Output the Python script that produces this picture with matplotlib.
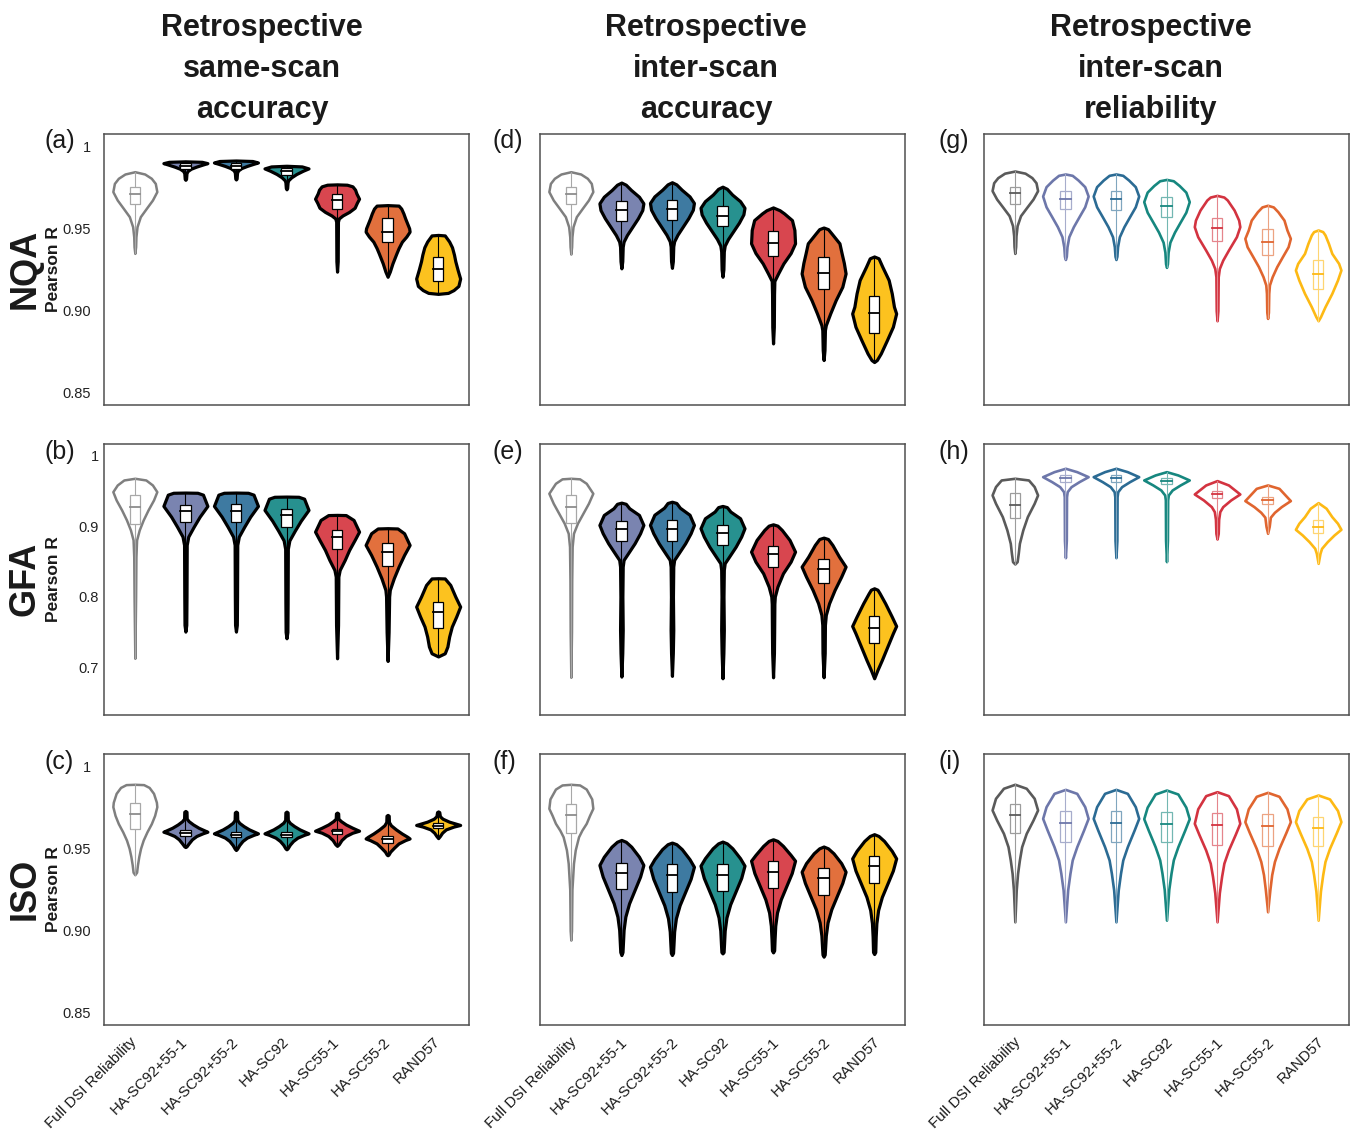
import numpy as np
import matplotlib.pyplot as plt
import matplotlib.transforms as mtransforms
from matplotlib.patches import Rectangle

plt.rcParams['font.family'] = ['Liberation Sans', 'DejaVu Sans']

categories = ["Full DSI Reliability", "HA-SC92+55-1", "HA-SC92+55-2", "HA-SC92",
              "HA-SC55-1", "HA-SC55-2", "RAND57"]
colores = ["#808080", "#7a84b0", "#3e7aa1", "#27918f", "#d8464f", "#e2703d", "#fcc21f"]
colores_rel = ["#5a5a5a", "#6d77aa", "#2b6b94", "#16877f", "#d33340", "#e0652f", "#fdb914"]

col_titles = ["Retrospective\nsame-scan\naccuracy",
              "Retrospective\ninter-scan\naccuracy",
              "Retrospective\ninter-scan\nreliability"]
row_names = ["NQA", "GFA", "ISO"]
letters = [["(a)", "(d)", "(g)"], ["(b)", "(e)", "(h)"], ["(c)", "(f)", "(i)"]]

# Perfil de cada violin: pares [valor R, ancho relativo], de arriba a abajo
# (a) NQA same-scan
nqa_same_prof = [
    [[0.9844, 0], [0.9830, 0.45], [0.9804, 0.75], [0.9773, 0.93], [0.9723, 1.0], [0.9672, 0.8], [0.9621, 0.52],
     [0.9571, 0.25], [0.9510, 0.1], [0.9449, 0.05], [0.9388, 0.035], [0.9348, 0]],
    [[0.9907, 0], [0.9904, 0.75], [0.9896, 1.0], [0.9888, 0.8], [0.9875, 0.5], [0.9862, 0.25], [0.9848, 0.1],
     [0.9835, 0.05], [0.9800, 0.03], [0.9795, 0]],
    [[0.9912, 0], [0.9909, 0.75], [0.9900, 1.0], [0.9892, 0.8], [0.9879, 0.5], [0.9866, 0.25], [0.9852, 0.1],
     [0.9838, 0.05], [0.9802, 0.03], [0.9797, 0]],
    [[0.9880, 0], [0.9876, 0.7], [0.9864, 1.0], [0.9850, 0.75], [0.9830, 0.45], [0.9810, 0.22], [0.9792, 0.08],
     [0.9780, 0.05], [0.9745, 0.03], [0.9737, 0]],
    [[0.9767, 0], [0.9765, 0.45], [0.9755, 0.7], [0.9735, 0.82], [0.9712, 0.88], [0.9680, 1.0], [0.9655, 0.9],
     [0.9625, 0.8], [0.9600, 0.55], [0.9578, 0.25], [0.9560, 0.08], [0.9540, 0.04], [0.9300, 0.03], [0.9237, 0]],
    [[0.9641, 0], [0.9638, 0.5], [0.9620, 0.62], [0.9590, 0.72], [0.9560, 0.8], [0.9500, 0.98], [0.9480, 1.0],
     [0.9450, 0.85], [0.9419, 0.65], [0.9380, 0.5], [0.9348, 0.4], [0.9287, 0.22], [0.9237, 0.1], [0.9206, 0]],
    [[0.9460, 0], [0.9457, 0.3], [0.9420, 0.5], [0.9385, 0.63], [0.9340, 0.72], [0.9300, 0.78], [0.9250, 0.88],
     [0.9195, 1.0], [0.9150, 0.92], [0.9125, 0.7], [0.9108, 0.45], [0.9102, 0]],
]
nqa_same_q1 = [0.9648, 0.9859, 0.9863, 0.9824, 0.9617, 0.9419, 0.9180]
nqa_same_med = [0.9708, 0.9877, 0.9880, 0.9846, 0.9672, 0.9480, 0.9251]
nqa_same_q3 = [0.9749, 0.9895, 0.9898, 0.9868, 0.9708, 0.9561, 0.9328]

# (b) GFA same-scan
gfa_same_prof = [
    [[0.9683, 0], [0.9659, 0.5], [0.9588, 0.8], [0.9493, 1.0], [0.9375, 0.85], [0.9233, 0.6], [0.9091, 0.38],
     [0.8949, 0.2], [0.8807, 0.08], [0.8570, 0.05], [0.8002, 0.035], [0.7126, 0]],
    [[0.9480, 0], [0.9477, 0.55], [0.9450, 0.8], [0.9290, 1.0], [0.9138, 0.65], [0.8996, 0.38], [0.8854, 0.13],
     [0.8736, 0.06], [0.8000, 0.05], [0.7600, 0.04], [0.7505, 0]],
    [[0.9480, 0], [0.9477, 0.55], [0.9450, 0.8], [0.9290, 1.0], [0.9138, 0.65], [0.8996, 0.38], [0.8854, 0.13],
     [0.8736, 0.06], [0.8000, 0.05], [0.7600, 0.04], [0.7505, 0]],
    [[0.9423, 0], [0.9420, 0.55], [0.9393, 0.8], [0.9233, 1.0], [0.9080, 0.65], [0.8940, 0.38], [0.8800, 0.13],
     [0.8680, 0.06], [0.7900, 0.05], [0.7500, 0.04], [0.7410, 0]],
    [[0.9163, 0], [0.9160, 0.4], [0.9091, 0.75], [0.8925, 1.0], [0.8807, 0.8], [0.8665, 0.55], [0.8523, 0.35],
     [0.8381, 0.12], [0.8286, 0.06], [0.7600, 0.045], [0.7126, 0]],
    [[0.8974, 0], [0.8970, 0.45], [0.8902, 0.75], [0.8736, 1.0], [0.8594, 0.75], [0.8428, 0.5], [0.8262, 0.28],
     [0.8097, 0.1], [0.8002, 0.07], [0.7500, 0.045], [0.7088, 0]],
    [[0.8263, 0], [0.8260, 0.3], [0.8168, 0.55], [0.8002, 0.78], [0.7860, 1.0], [0.7718, 0.82], [0.7576, 0.62],
     [0.7434, 0.5], [0.7292, 0.42], [0.7197, 0.3], [0.7152, 0]],
]
gfa_same_q1 = [0.9034, 0.9058, 0.9063, 0.8996, 0.8684, 0.8442, 0.7552]
gfa_same_med = [0.9271, 0.9223, 0.9223, 0.9162, 0.8854, 0.8641, 0.7789]
gfa_same_q3 = [0.9446, 0.9304, 0.9318, 0.9252, 0.8949, 0.8759, 0.7931]

# (c) ISO same-scan
iso_same_prof = [
    [[0.9889, 0], [0.9887, 0.4], [0.9870, 0.65], [0.9834, 0.85], [0.9780, 0.98], [0.9753, 1.0], [0.9700, 0.9],
     [0.9650, 0.75], [0.9600, 0.55], [0.9550, 0.38], [0.9500, 0.26], [0.9450, 0.18], [0.9400, 0.12],
     [0.9355, 0.08], [0.9340, 0]],
    [[0.9727, 0], [0.9722, 0.05], [0.9680, 0.06], [0.9665, 0.15], [0.9645, 0.35], [0.9625, 0.6], [0.9610, 0.85],
     [0.9601, 1.0], [0.9592, 0.8], [0.9575, 0.5], [0.9555, 0.3], [0.9530, 0.15], [0.9512, 0.05], [0.9508, 0]],
    [[0.9723, 0], [0.9718, 0.05], [0.9672, 0.06], [0.9655, 0.15], [0.9635, 0.35], [0.9615, 0.6], [0.9600, 0.85],
     [0.9591, 1.0], [0.9582, 0.8], [0.9565, 0.5], [0.9545, 0.3], [0.9520, 0.15], [0.9497, 0.05], [0.9490, 0]],
    [[0.9723, 0], [0.9718, 0.05], [0.9672, 0.06], [0.9655, 0.15], [0.9635, 0.35], [0.9615, 0.6], [0.9600, 0.85],
     [0.9591, 1.0], [0.9582, 0.8], [0.9565, 0.5], [0.9545, 0.3], [0.9522, 0.15], [0.9500, 0.05], [0.9494, 0]],
    [[0.9717, 0], [0.9712, 0.05], [0.9680, 0.06], [0.9665, 0.18], [0.9645, 0.4], [0.9625, 0.7], [0.9607, 1.0],
     [0.9595, 0.7], [0.9575, 0.4], [0.9550, 0.2], [0.9525, 0.08], [0.9515, 0]],
    [[0.9703, 0], [0.9698, 0.05], [0.9660, 0.06], [0.9640, 0.15], [0.9615, 0.38], [0.9590, 0.65], [0.9570, 0.9],
     [0.9560, 1.0], [0.9550, 0.8], [0.9530, 0.5], [0.9505, 0.3], [0.9480, 0.12], [0.9462, 0.04], [0.9458, 0]],
    [[0.9724, 0], [0.9720, 0.05], [0.9695, 0.08], [0.9680, 0.2], [0.9662, 0.5], [0.9648, 0.85], [0.9642, 1.0],
     [0.9632, 0.7], [0.9615, 0.35], [0.9595, 0.18], [0.9575, 0.08], [0.9562, 0]],
]
iso_same_q1 = [0.9615, 0.9577, 0.9567, 0.9567, 0.9587, 0.9534, 0.9623]
iso_same_med = [0.9708, 0.9595, 0.9583, 0.9583, 0.9603, 0.9555, 0.9638]
iso_same_q3 = [0.9777, 0.9611, 0.9599, 0.9599, 0.9619, 0.9575, 0.9652]

# (d) NQA inter-scan
nqa_inter_prof = [
    [[0.9844, 0], [0.9830, 0.45], [0.9804, 0.75], [0.9773, 0.93], [0.9723, 1.0], [0.9672, 0.8], [0.9621, 0.52],
     [0.9571, 0.25], [0.9510, 0.1], [0.9449, 0.05], [0.9388, 0.035], [0.9344, 0]],
    [[0.9778, 0], [0.9765, 0.2], [0.9733, 0.44], [0.9692, 0.8], [0.9652, 1.0], [0.9611, 0.95], [0.9561, 0.75],
     [0.9510, 0.5], [0.9459, 0.25], [0.9419, 0.1], [0.9388, 0.06], [0.9300, 0.04], [0.9257, 0]],
    [[0.9780, 0], [0.9767, 0.2], [0.9735, 0.44], [0.9694, 0.8], [0.9654, 1.0], [0.9613, 0.95], [0.9563, 0.75],
     [0.9512, 0.5], [0.9461, 0.25], [0.9421, 0.1], [0.9390, 0.06], [0.9300, 0.04], [0.9260, 0]],
    [[0.9753, 0], [0.9740, 0.2], [0.9705, 0.44], [0.9665, 0.8], [0.9625, 1.0], [0.9585, 0.95], [0.9535, 0.75],
     [0.9485, 0.5], [0.9435, 0.25], [0.9395, 0.1], [0.9360, 0.06], [0.9250, 0.04], [0.9206, 0]],
    [[0.9627, 0], [0.9610, 0.3], [0.9591, 0.5], [0.9550, 0.86], [0.9490, 0.97], [0.9409, 1.0], [0.9350, 0.8],
     [0.9287, 0.47], [0.9226, 0.23], [0.9180, 0.06], [0.9100, 0.045], [0.8900, 0.035], [0.8801, 0]],
    [[0.9505, 0], [0.9495, 0.2], [0.9469, 0.36], [0.9409, 0.72], [0.9348, 0.82], [0.9290, 0.92], [0.9226, 1.0],
     [0.9145, 0.85], [0.9064, 0.55], [0.8983, 0.3], [0.8912, 0.1], [0.8882, 0.06], [0.8760, 0.04], [0.8700, 0]],
    [[0.9329, 0], [0.9318, 0.2], [0.9267, 0.37], [0.9186, 0.66], [0.9105, 0.8], [0.9024, 0.9], [0.8983, 1.0],
     [0.8902, 0.85], [0.8821, 0.58], [0.8740, 0.3], [0.8700, 0.12], [0.8688, 0]],
]
nqa_inter_q1 = [0.9648, 0.9547, 0.9550, 0.9514, 0.9332, 0.9129, 0.8866]
nqa_inter_med = [0.9708, 0.9613, 0.9618, 0.9577, 0.9409, 0.9226, 0.8983]
nqa_inter_q3 = [0.9749, 0.9664, 0.9670, 0.9635, 0.9484, 0.9328, 0.9091]

# (e) GFA inter-scan
gfa_inter_prof = [
    [[0.9683, 0], [0.9675, 0.4], [0.9612, 0.7], [0.9470, 1.0], [0.9328, 0.8], [0.9186, 0.55], [0.9044, 0.3],
     [0.8902, 0.12], [0.8712, 0.06], [0.8229, 0.04], [0.7500, 0.03], [0.6856, 0]],
    [[0.9337, 0], [0.9320, 0.2], [0.9257, 0.36], [0.9162, 0.8], [0.9020, 1.0], [0.8902, 0.85], [0.8759, 0.6],
     [0.8617, 0.3], [0.8523, 0.1], [0.8428, 0.06], [0.8000, 0.045], [0.7528, 0.06], [0.7200, 0.04], [0.6866, 0]],
    [[0.9350, 0], [0.9332, 0.2], [0.9265, 0.36], [0.9165, 0.8], [0.9020, 1.0], [0.8902, 0.85], [0.8759, 0.6],
     [0.8617, 0.3], [0.8523, 0.1], [0.8428, 0.06], [0.8000, 0.045], [0.7528, 0.06], [0.7200, 0.04], [0.6876, 0]],
    [[0.9290, 0], [0.9273, 0.2], [0.9210, 0.36], [0.9115, 0.8], [0.8973, 1.0], [0.8855, 0.85], [0.8712, 0.6],
     [0.8570, 0.3], [0.8476, 0.1], [0.8381, 0.06], [0.8000, 0.045], [0.7528, 0.06], [0.7200, 0.04], [0.6842, 0]],
    [[0.9029, 0], [0.9010, 0.2], [0.8949, 0.4], [0.8807, 0.75], [0.8641, 1.0], [0.8499, 0.8], [0.8333, 0.45],
     [0.8144, 0.2], [0.8002, 0.08], [0.7900, 0.06], [0.7500, 0.05], [0.7200, 0.04], [0.6856, 0]],
    [[0.8840, 0], [0.8820, 0.2], [0.8736, 0.4], [0.8570, 0.7], [0.8428, 1.0], [0.8286, 0.8], [0.8097, 0.5],
     [0.7908, 0.25], [0.7741, 0.1], [0.7600, 0.06], [0.7200, 0.05], [0.6856, 0]],
    [[0.8120, 0], [0.8100, 0.15], [0.8049, 0.25], [0.7907, 0.5], [0.7718, 0.8], [0.7585, 1.0], [0.7481, 0.85],
     [0.7292, 0.6], [0.7102, 0.35], [0.6960, 0.15], [0.6842, 0]],
]
gfa_inter_q1 = [0.9044, 0.8793, 0.8797, 0.8736, 0.8428, 0.8201, 0.7339]
gfa_inter_med = [0.9280, 0.8958, 0.8958, 0.8902, 0.8603, 0.8390, 0.7552]
gfa_inter_q3 = [0.9446, 0.9081, 0.9091, 0.9020, 0.8722, 0.8532, 0.7732]

# (f) ISO inter-scan
iso_inter_prof = [
    [[0.9889, 0], [0.9885, 0.4], [0.9860, 0.7], [0.9800, 0.95], [0.9743, 1.0], [0.9700, 0.85], [0.9652, 0.7],
     [0.9610, 0.5], [0.9570, 0.35], [0.9490, 0.2], [0.9409, 0.12], [0.9250, 0.05], [0.9000, 0.03], [0.8943, 0]],
    [[0.9551, 0], [0.9540, 0.2], [0.9510, 0.45], [0.9449, 0.8], [0.9399, 1.0], [0.9328, 0.85], [0.9247, 0.6],
     [0.9166, 0.35], [0.9085, 0.18], [0.9004, 0.1], [0.8923, 0.07], [0.8870, 0.05], [0.8852, 0]],
    [[0.9535, 0], [0.9525, 0.2], [0.9495, 0.45], [0.9434, 0.8], [0.9388, 1.0], [0.9315, 0.85], [0.9235, 0.6],
     [0.9155, 0.35], [0.9075, 0.18], [0.8995, 0.1], [0.8915, 0.07], [0.8865, 0.05], [0.8852, 0]],
    [[0.9541, 0], [0.9530, 0.2], [0.9500, 0.45], [0.9440, 0.8], [0.9395, 1.0], [0.9320, 0.85], [0.9240, 0.6],
     [0.9160, 0.35], [0.9080, 0.18], [0.9000, 0.1], [0.8920, 0.07], [0.8870, 0.05], [0.8862, 0]],
    [[0.9555, 0], [0.9545, 0.2], [0.9515, 0.45], [0.9460, 0.8], [0.9425, 1.0], [0.9350, 0.85], [0.9270, 0.6],
     [0.9190, 0.35], [0.9110, 0.18], [0.9030, 0.1], [0.8950, 0.07], [0.8880, 0.05], [0.8868, 0]],
    [[0.9511, 0], [0.9500, 0.2], [0.9470, 0.45], [0.9410, 0.8], [0.9358, 1.0], [0.9290, 0.85], [0.9210, 0.6],
     [0.9130, 0.35], [0.9050, 0.18], [0.8970, 0.1], [0.8900, 0.07], [0.8855, 0.05], [0.8842, 0]],
    [[0.9586, 0], [0.9575, 0.2], [0.9545, 0.45], [0.9485, 0.8], [0.9439, 1.0], [0.9365, 0.85], [0.9285, 0.6],
     [0.9205, 0.35], [0.9125, 0.18], [0.9045, 0.1], [0.8965, 0.07], [0.8870, 0.05], [0.8858, 0]],
]
iso_inter_q1 = [0.9591, 0.9251, 0.9237, 0.9243, 0.9257, 0.9216, 0.9287]
iso_inter_med = [0.9700, 0.9352, 0.9338, 0.9338, 0.9354, 0.9318, 0.9392]
iso_inter_q3 = [0.9769, 0.9413, 0.9403, 0.9405, 0.9423, 0.9378, 0.9455]

# (g) NQA reliability
nqa_rel_prof = [
    [[0.9848, 0], [0.9835, 0.45], [0.9808, 0.75], [0.9777, 0.93], [0.9729, 1.0], [0.9678, 0.8], [0.9627, 0.52],
     [0.9577, 0.25], [0.9516, 0.1], [0.9455, 0.05], [0.9390, 0.035], [0.9348, 0]],
    [[0.9830, 0], [0.9822, 0.3], [0.9793, 0.56], [0.9753, 0.85], [0.9696, 1.0], [0.9631, 0.85], [0.9571, 0.6],
     [0.9510, 0.35], [0.9449, 0.15], [0.9388, 0.07], [0.9330, 0.04], [0.9311, 0]],
    [[0.9830, 0], [0.9822, 0.3], [0.9793, 0.56], [0.9753, 0.85], [0.9696, 1.0], [0.9631, 0.85], [0.9571, 0.6],
     [0.9510, 0.35], [0.9449, 0.15], [0.9388, 0.07], [0.9330, 0.04], [0.9311, 0]],
    [[0.9797, 0], [0.9789, 0.3], [0.9760, 0.56], [0.9720, 0.85], [0.9662, 1.0], [0.9598, 0.85], [0.9538, 0.6],
     [0.9477, 0.35], [0.9416, 0.15], [0.9355, 0.07], [0.9285, 0.04], [0.9263, 0]],
    [[0.9700, 0], [0.9690, 0.3], [0.9672, 0.45], [0.9611, 0.75], [0.9550, 0.95], [0.9510, 1.0], [0.9449, 0.85],
     [0.9368, 0.5], [0.9307, 0.25], [0.9256, 0.1], [0.9206, 0.05], [0.9000, 0.035], [0.8939, 0]],
    [[0.9640, 0], [0.9630, 0.25], [0.9601, 0.45], [0.9550, 0.72], [0.9490, 0.85], [0.9439, 1.0], [0.9388, 0.9],
     [0.9328, 0.65], [0.9267, 0.4], [0.9206, 0.2], [0.9156, 0.08], [0.9105, 0.05], [0.8990, 0.035], [0.8953, 0]],
    [[0.9490, 0], [0.9480, 0.2], [0.9460, 0.3], [0.9409, 0.45], [0.9348, 0.6], [0.9287, 0.9], [0.9247, 1.0],
     [0.9186, 0.85], [0.9105, 0.6], [0.9024, 0.3], [0.8963, 0.1], [0.8939, 0]],
]
nqa_rel_q1 = [0.9648, 0.9615, 0.9611, 0.9571, 0.9425, 0.9336, 0.9129]
nqa_rel_med = [0.9712, 0.9676, 0.9676, 0.9635, 0.9500, 0.9419, 0.9222]
nqa_rel_q3 = [0.9753, 0.9727, 0.9725, 0.9688, 0.9565, 0.9494, 0.9307]

# (h) GFA reliability
gfa_rel_prof = [
    [[0.9683, 0], [0.9659, 0.6], [0.9565, 0.85], [0.9446, 1.0], [0.9328, 0.85], [0.9138, 0.55], [0.8949, 0.35],
     [0.8759, 0.2], [0.8617, 0.15], [0.8499, 0.1], [0.8466, 0]],
    [[0.9825, 0], [0.9777, 0.5], [0.9706, 1.0], [0.9635, 0.6], [0.9564, 0.25], [0.9493, 0.08], [0.9422, 0.05],
     [0.8800, 0.04], [0.8556, 0]],
    [[0.9825, 0], [0.9777, 0.5], [0.9706, 1.0], [0.9635, 0.6], [0.9564, 0.25], [0.9493, 0.08], [0.9422, 0.05],
     [0.8800, 0.04], [0.8556, 0]],
    [[0.9777, 0], [0.9730, 0.5], [0.9659, 1.0], [0.9588, 0.6], [0.9517, 0.25], [0.9446, 0.08], [0.9375, 0.05],
     [0.8800, 0.04], [0.8499, 0]],
    [[0.9650, 0], [0.9588, 0.5], [0.9460, 1.0], [0.9375, 0.6], [0.9280, 0.25], [0.9209, 0.12], [0.9100, 0.07],
     [0.8900, 0.05], [0.8821, 0]],
    [[0.9588, 0], [0.9540, 0.5], [0.9366, 1.0], [0.9280, 0.6], [0.9200, 0.3], [0.9130, 0.12], [0.9000, 0.07],
     [0.8902, 0]],
    [[0.9337, 0], [0.9257, 0.35], [0.9138, 0.6], [0.9044, 0.85], [0.8958, 1.0], [0.8878, 0.7], [0.8783, 0.4],
     [0.8688, 0.15], [0.8617, 0.08], [0.8475, 0]],
]
gfa_rel_q1 = [0.9124, 0.9635, 0.9635, 0.9598, 0.9399, 0.9318, 0.8911]
gfa_rel_med = [0.9304, 0.9683, 0.9683, 0.9645, 0.9460, 0.9375, 0.8996]
gfa_rel_q3 = [0.9470, 0.9730, 0.9730, 0.9683, 0.9508, 0.9422, 0.9091]

# (i) ISO reliability
iso_rel_prof = [
    [[0.9889, 0], [0.9865, 0.5], [0.9804, 0.85], [0.9733, 1.0], [0.9672, 0.8], [0.9591, 0.5], [0.9510, 0.3],
     [0.9429, 0.2], [0.9348, 0.12], [0.9247, 0.06], [0.9054, 0]],
    [[0.9858, 0], [0.9834, 0.5], [0.9753, 0.85], [0.9682, 1.0], [0.9611, 0.8], [0.9510, 0.5], [0.9429, 0.3],
     [0.9348, 0.2], [0.9247, 0.1], [0.9054, 0]],
    [[0.9858, 0], [0.9834, 0.5], [0.9753, 0.85], [0.9682, 1.0], [0.9611, 0.8], [0.9510, 0.5], [0.9429, 0.3],
     [0.9348, 0.2], [0.9247, 0.1], [0.9054, 0]],
    [[0.9854, 0], [0.9830, 0.5], [0.9750, 0.85], [0.9680, 1.0], [0.9610, 0.8], [0.9510, 0.5], [0.9430, 0.3],
     [0.9350, 0.2], [0.9250, 0.1], [0.9064, 0]],
    [[0.9844, 0], [0.9820, 0.5], [0.9740, 0.85], [0.9652, 1.0], [0.9585, 0.8], [0.9490, 0.5], [0.9410, 0.3],
     [0.9330, 0.2], [0.9230, 0.1], [0.9054, 0]],
    [[0.9840, 0], [0.9816, 0.5], [0.9740, 0.85], [0.9662, 1.0], [0.9595, 0.8], [0.9500, 0.5], [0.9420, 0.3],
     [0.9340, 0.18], [0.9250, 0.1], [0.9115, 0]],
    [[0.9824, 0], [0.9800, 0.5], [0.9730, 0.85], [0.9662, 1.0], [0.9595, 0.8], [0.9500, 0.5], [0.9420, 0.3],
     [0.9340, 0.2], [0.9240, 0.1], [0.9064, 0]],
]
iso_rel_q1 = [0.9591, 0.9536, 0.9536, 0.9536, 0.9520, 0.9514, 0.9516]
iso_rel_med = [0.9700, 0.9652, 0.9652, 0.9648, 0.9640, 0.9635, 0.9621]
iso_rel_q3 = [0.9769, 0.9727, 0.9727, 0.9723, 0.9712, 0.9706, 0.9692]

paneles = [
    [(nqa_same_prof, nqa_same_q1, nqa_same_med, nqa_same_q3),
     (nqa_inter_prof, nqa_inter_q1, nqa_inter_med, nqa_inter_q3),
     (nqa_rel_prof, nqa_rel_q1, nqa_rel_med, nqa_rel_q3)],
    [(gfa_same_prof, gfa_same_q1, gfa_same_med, gfa_same_q3),
     (gfa_inter_prof, gfa_inter_q1, gfa_inter_med, gfa_inter_q3),
     (gfa_rel_prof, gfa_rel_q1, gfa_rel_med, gfa_rel_q3)],
    [(iso_same_prof, iso_same_q1, iso_same_med, iso_same_q3),
     (iso_inter_prof, iso_inter_q1, iso_inter_med, iso_inter_q3),
     (iso_rel_prof, iso_rel_q1, iso_rel_med, iso_rel_q3)],
]

ylims = [(0.8427, 1.0073), (0.632, 1.017), (0.8427, 1.0073)]
yticks = [[0.85, 0.90, 0.95, 1.0], [0.7, 0.8, 0.9, 1.0], [0.85, 0.90, 0.95, 1.0]]
ytlabels = [["0.85", "0.90", "0.95", "1"], ["0.7", "0.8", "0.9", "1"], ["0.85", "0.90", "0.95", "1"]]
ypads = [9.5, 3.6, 9.5]


def aclarar(c, f):
    r, g, b = plt.matplotlib.colors.to_rgb(c)
    return (r + (1 - r) * f, g + (1 - g) * f, b + (1 - b) * f)


def dibujar_violin(ax, x, prof, q1, med, q3, col, estilo):
    ys = np.array([p[0] for p in prof])
    ws = np.array([p[1] for p in prof])
    if estilo == "lleno":
        half, face, edge, lw = 0.435, col, "black", 2.3
        bface, bedge, mcol, lcol = "white", "black", "black", "black"
    elif estilo == "gris":
        half, face, edge, lw = 0.435, "white", "#7f7f7f", 1.8
        bface, bedge, mcol, lcol = "white", "#a8a8a8", "#8c8c8c", "#a8a8a8"
    else:
        half, face, edge, lw = 0.45, "white", col, 1.9
        bface, bedge, mcol, lcol = "none", aclarar(col, 0.4), col, aclarar(col, 0.4)
    ax.fill_betweenx(ys, x - ws * half, x + ws * half, facecolor=face, edgecolor=edge,
                     linewidth=lw, joinstyle="round", zorder=2)
    ax.plot([x, x], [ys.min(), ys.max()], color=lcol, lw=0.8, zorder=3)
    bw = 0.105
    ax.add_patch(Rectangle((x - bw, q1), 2 * bw, q3 - q1, facecolor=bface, edgecolor=bedge,
                           lw=0.9, zorder=4))
    ax.plot([x - bw, x + bw], [med, med], color=mcol, lw=1.3, zorder=5)


W, H = 1351, 1136
fig = plt.figure(figsize=(W / 100, H / 100), dpi=100)

col_left = [104, 540, 984]
row_top = [134, 444, 754]
ax_w, ax_h = 365, 271
label_shift = [-5, -1, -1]

for r in range(3):
    for c in range(3):
        ax = fig.add_axes([col_left[c] / W, 1 - (row_top[r] + ax_h) / H, ax_w / W, ax_h / H])
        prof_all, q1s, meds, q3s = paneles[r][c]
        for i in range(len(categories)):
            if c == 2:
                estilo, col = "linea", colores_rel[i]
            elif i == 0:
                estilo, col = "gris", colores[i]
            else:
                estilo, col = "lleno", colores[i]
            dibujar_violin(ax, i, prof_all[i], q1s[i], meds[i], q3s[i], col, estilo)
        ax.set_xlim(-0.61, 6.61)
        ax.set_ylim(*ylims[r])
        for s in ax.spines.values():
            s.set_color("#505050")
            s.set_linewidth(1.1)
        if c == 0:
            ax.set_yticks(yticks[r], labels=ytlabels[r])
            ax.tick_params(axis="y", length=0, pad=ypads[r], labelsize=10.5, labelcolor="#222222")
        else:
            ax.set_yticks([])
        if r == 2:
            ax.set_xticks(range(len(categories)))
            ax.set_xticklabels(categories, rotation=45, ha="right", va="top",
                               rotation_mode="anchor", fontsize=10.8, color="#1a1a1a")
            ax.tick_params(axis="x", length=0, pad=7)
            off = mtransforms.ScaledTranslation(label_shift[c] / 100, 0, fig.dpi_scale_trans)
            for lab in ax.get_xticklabels():
                lab.set_transform(lab.get_transform() + off)
        else:
            ax.set_xticks([])

# Titulos de columna
title_x = [262, 706, 1151]
baselines = [36, 77, 118]
for c in range(3):
    for k, linea in enumerate(col_titles[c].split("\n")):
        fig.text(title_x[c] / W, 1 - baselines[k] / H, linea, ha="center", va="baseline",
                 fontsize=22, fontweight="bold", color="#1a1a1a")

# Etiquetas de fila
row_cy = [269, 579, 889]
for r in range(3):
    fig.text(25 / W, 1 - row_cy[r] / H, row_names[r], rotation=90, ha="center", va="center",
             fontsize=26, fontweight="bold", color="#1a1a1a")
    fig.text(53.5 / W, 1 - row_cy[r] / H, "Pearson R", rotation=90, ha="center", va="center",
             fontsize=12.5, fontweight="bold", color="#1a1a1a")

# Letras de panel
letter_x = [45, 492, 938]
letter_y = [141, 452, 762]
for r in range(3):
    for c in range(3):
        fig.text(letter_x[c] / W, 1 - letter_y[r] / H, letters[r][c], ha="left", va="center",
                 fontsize=18, color="#1a1a1a")

fig.savefig("out.png", dpi=100)
